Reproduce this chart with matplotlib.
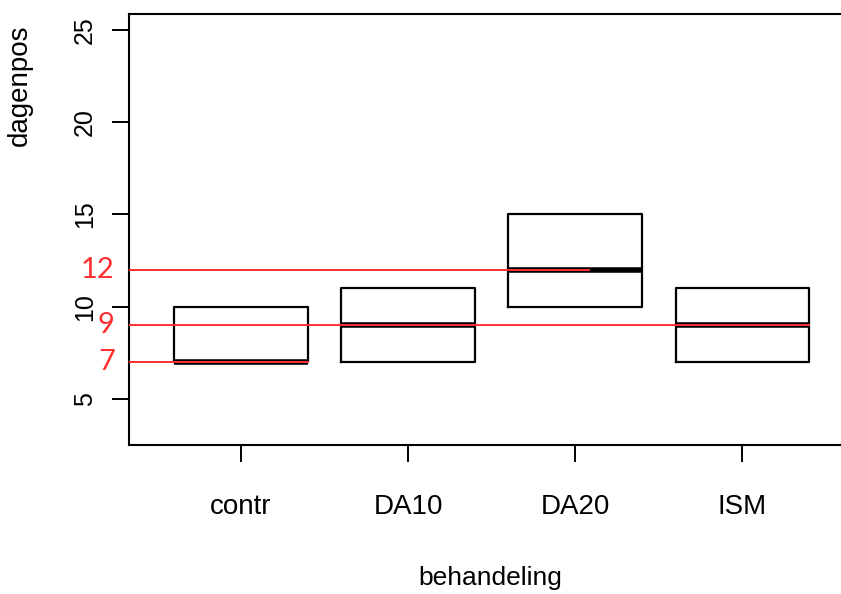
import matplotlib
matplotlib.use("Agg")
import matplotlib.pyplot as plt

groups = ["contr", "DA10", "DA20", "ISM"]
q1 = [7, 7, 10, 7]
med = [7, 9, 12, 9]
q3 = [10, 11, 15, 11]

# red reference lines: level and where they stop on the x axis
ref_levels = [12, 9, 7]
ref_ends = [3.08, 4.4, 1.4]

plt.rcParams['font.family'] = ['Liberation Sans', 'DejaVu Sans']

fig = plt.figure(figsize=(8.41, 5.94), dpi=100)
ax = fig.add_axes([0.1534, 0.2508, 0.8466, 0.7256])

stats = []
for g, a, m, b in zip(groups, q1, med, q3):
    stats.append(dict(label=g, q1=a, med=m, q3=b, whislo=a, whishi=b, fliers=[]))

ax.bxp(stats, positions=range(1, 5), widths=0.8, showcaps=False,
       boxprops=dict(color="black", linewidth=1.6),
       whiskerprops=dict(linewidth=0),
       medianprops=dict(color="black", linewidth=4, solid_capstyle="butt"))

xmin = 0.33
red = "#ff3030"
for lev, end in zip(ref_levels, ref_ends):
    ax.plot([xmin, end], [lev, lev], color=red, linewidth=1.4, zorder=5)
    ax.text(xmin - 0.085, lev, str(lev), color=red, fontsize=21,
            ha="right", va="center", family=["Lato", "DejaVu Sans"])

ax.set_xlim(xmin, 4.59)
ax.set_ylim(2.5, 25.87)
ax.set_yticks([5, 10, 15, 20, 25])
ax.set_yticklabels(["5", "10", "15", "20", "25"], rotation=90, va="center")
ax.set_xticks(range(1, 5))
ax.set_xticklabels(groups)

ax.spines["right"].set_visible(False)
for s in ["left", "bottom", "top"]:
    ax.spines[s].set_linewidth(1.5)

ax.tick_params(axis="x", length=12, width=1.4, pad=23, labelsize=20)
ax.tick_params(axis="y", length=12, width=1.4, pad=11, labelsize=18)

ax.set_ylabel("dagenpos", fontsize=20)
ax.yaxis.set_label_coords(-0.135, 0.8353)
ax.set_xlabel("behandeling", fontsize=19)
ax.xaxis.set_label_coords(0.508, -0.28)

fig.savefig("out.png", dpi=100)
